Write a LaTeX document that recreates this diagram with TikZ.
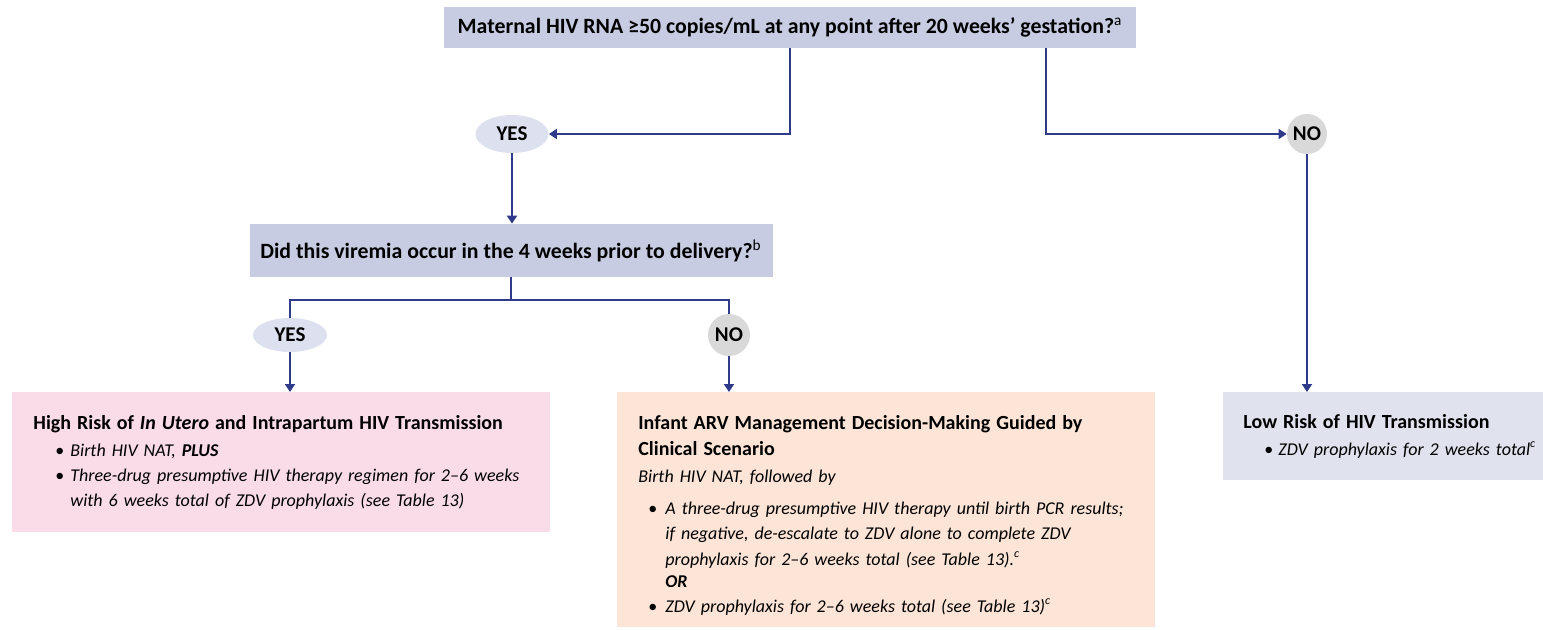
\documentclass[tikz,border=0pt]{standalone}
\usepackage{fontspec}
\setmainfont{Carlito}
\usepackage{enumitem}
\usetikzlibrary{arrows.meta, shapes.geometric}

\definecolor{navy}{HTML}{2F3B8A}
\definecolor{qfill}{HTML}{C8CCE2}
\definecolor{yesfill}{HTML}{DDE0EE}
\definecolor{nofill}{HTML}{D9D9D9}
\definecolor{pinkfill}{HTML}{F9DCE7}
\definecolor{peachfill}{HTML}{FCE4D7}
\definecolor{lowfill}{HTML}{E0E2EE}

\newcommand{\bodyfont}{\fontsize{9}{12.6}\selectfont}
\newcommand{\boxtitle}[1]{{\fontsize{10}{13}\selectfont\bfseries #1\par}}
\newcommand{\fullline}[1]{\makebox[\linewidth][l]{#1}}
\setlist[itemize]{label=\textbullet, leftmargin=18.5pt, labelsep=3pt,
  itemsep=0pt, topsep=1pt, parsep=0pt, partopsep=0pt}

\begin{document}
\begin{tikzpicture}[
    x=0.5pt, y=-0.5pt,
    question/.style={fill=qfill, inner sep=0pt, font=\fontsize{10.9}{12}\selectfont\bfseries},
    yesnode/.style={ellipse, fill=yesfill, inner sep=0pt, font=\fontsize{10.5}{11}\selectfont\bfseries},
    nonode/.style={circle, fill=nofill, inner sep=0pt, minimum size=20pt, font=\fontsize{10.5}{11}\selectfont\bfseries},
    outbox/.style={anchor=north west, inner xsep=10.5pt, inner ysep=0pt, align=left, font=\bodyfont},
    link/.style={draw=navy, line width=1.1pt},
    arr/.style={link, -{Triangle[width=5pt,length=4pt]}}
  ]
  \useasboundingbox (0,0) rectangle (1543,629);

  % questions
  \node[question, minimum width=346pt, minimum height=20.5pt] (q1) at (790,27.5)
    {Maternal HIV RNA ≥50 copies/mL at any point after 20 weeks’ gestation?\textsuperscript{\mdseries a}};
  \node[question, minimum width=261.5pt, minimum height=26.5pt] (q2) at (511,250.5)
    {Did this viremia occur in the 4 weeks prior to delivery?\textsuperscript{\mdseries b}};

  % answers
  \node[yesnode, minimum width=36.5pt, minimum height=19pt] (yes1) at (512,134) {YES};
  \node[nonode] (no1) at (1307,134) {NO};
  \node[yesnode, minimum width=37pt, minimum height=17pt] (yes2) at (290,335) {YES};
  \node[nonode, minimum size=21pt] (no2) at (729,335) {NO};

  % outcomes
  \node[outbox, fill=pinkfill, text width=248pt, minimum height=70pt] (high) at (12,392) {%
    \boxtitle{High Risk of \textit{In Utero} and Intrapartum HIV Transmission}
    \begin{itemize}
      \item \textit{Birth HIV NAT, \textbf{PLUS}}
      \item \textit{\fullline{Three-drug presumptive HIV therapy regimen for 2–6 weeks}\newline
        with 6 weeks total of ZDV prophylaxis (see Table 13)}
    \end{itemize}};
  \node[outbox, fill=peachfill, text width=248pt, minimum height=117.5pt] (mid) at (617,392) {%
    \boxtitle{\rule{0pt}{12.5pt}Infant ARV Management Decision-Making Guided by\newline Clinical Scenario}
    \vspace{1pt}\textit{Birth HIV NAT, followed by}
    \begin{itemize}[topsep=3.5pt, leftmargin=13.5pt, labelsep=4pt]
      \item \textit{\fullline{A three-drug presumptive HIV therapy until birth PCR results;}\newline
        \fullline{if negative, de-escalate to ZDV alone to complete ZDV}\newline
        prophylaxis for 2–6 weeks total (see Table 13).\textsuperscript{c}}
      \vspace{-1.5pt}
      \item[] \textbf{\textit{OR}}
      \item \textit{ZDV prophylaxis for 2–6 weeks total (see Table 13)\textsuperscript{c}}
    \end{itemize}};
  \node[outbox, fill=lowfill, inner xsep=10pt, text width=140pt, minimum height=44pt] (low) at (1223,392) {%
    \boxtitle{Low Risk of HIV Transmission}
    \begin{itemize}[leftmargin=17.5pt, labelsep=2.5pt]
      \item \textit{\fullline{ZDV prophylaxis for 2 weeks total\textsuperscript{c}}}
    \end{itemize}};

  % connectors
  \coordinate (q1no) at (1046,48);
  \draw[arr] (q1.south) |- (yes1.east);
  \draw[arr] (q1no) |- (no1.west);
  \draw[arr] (yes1.south) -- (yes1.south |- q2.north);
  \coordinate (split) at (511,300);
  \draw[link] (q2.south) -- (split);
  \draw[link] (yes2.north) |- (split) -| (no2.north);
  \draw[arr] (yes2.south) -- (yes2.south |- high.north);
  \draw[arr] (no2.south) -- (no2.south |- mid.north);
  \draw[arr] (no1.south) -- (no1.south |- low.north);
\end{tikzpicture}
\end{document}
